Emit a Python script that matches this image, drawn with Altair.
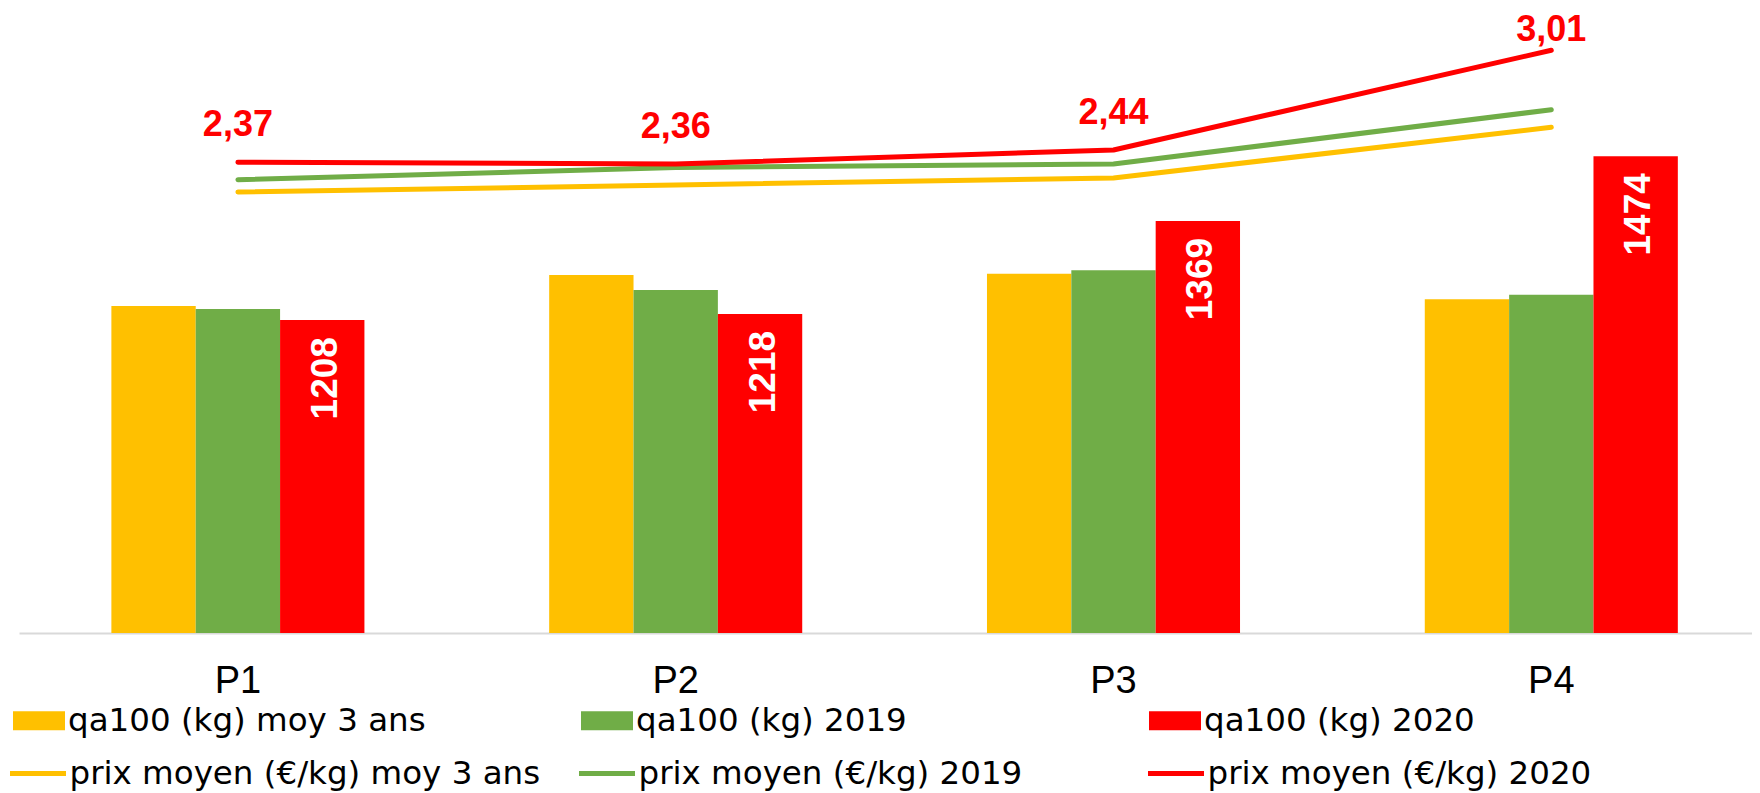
import altair as alt
import pandas as pd

periods = ["P1", "P2", "P3", "P4"]
bar_series = ["qa100 (kg) moy 3 ans", "qa100 (kg) 2019", "qa100 (kg) 2020"]
line_series = ["prix moyen (€/kg) moy 3 ans", "prix moyen (€/kg) 2019", "prix moyen (€/kg) 2020"]
qa_moy3 = [1231, 1281, 1283, 1242]
qa_2019 = [1226, 1257, 1289, 1249]
qa_2020 = [1208, 1218, 1369, 1474]
prix_moy3 = [2.20, 2.24, 2.28, 2.57]
prix_2019 = [2.27, 2.34, 2.36, 2.67]
prix_2020 = [2.37, 2.36, 2.44, 3.01]
colors = ["#FFC000", "#70AD47", "#FF0000"]

bars_df = pd.DataFrame(
    [{"periode": p, "serie": s, "qa": v}
     for s, vals in zip(bar_series, [qa_moy3, qa_2019, qa_2020])
     for p, v in zip(periods, vals)]
)
lines_df = pd.DataFrame(
    [{"periode": p, "serie": s, "prix": v}
     for s, vals in zip(line_series, [prix_moy3, prix_2019, prix_2020])
     for p, v in zip(periods, vals)]
)

FONT = "Liberation Sans"

x_enc = alt.X(
    "periode:N",
    sort=periods,
    scale=alt.Scale(domain=periods, range=[0, 1751.2], paddingInner=0.422, paddingOuter=0.211),
    axis=alt.Axis(
        title=None, labelAngle=0, labelFont=FONT, labelFontSize=38, labelColor="black",
        labelPadding=29, ticks=False, tickSize=0, domainColor="#D9D9D9", domainWidth=2,
        grid=False,
    ),
)
xoff = alt.XOffset("serie:N", sort=bar_series, scale=alt.Scale(domain=bar_series, paddingInner=0, paddingOuter=0))
y_qa = alt.Y("qa:Q", scale=alt.Scale(domain=[700, 1700], zero=False, nice=False), axis=None)
y_prix = alt.Y("prix:Q", scale=alt.Scale(domain=[-0.32, 3.2], zero=False, nice=False), axis=None)

bar_base = alt.Chart(bars_df)
bars = bar_base.mark_bar(clip=True).encode(
    x=x_enc,
    xOffset=xoff,
    y=y_qa,
    fill=alt.Fill(
        "serie:N", sort=bar_series,
        scale=alt.Scale(domain=bar_series, range=colors),
        legend=alt.Legend(
            title=None, orient="none", legendX=-6, legendY=677.5, direction="horizontal",
            columns=3, gridAlign="all", columnPadding=155, padding=0,
            symbolType="M-1,-0.365H1V0.365H-1Z", symbolSize=2704, symbolStrokeWidth=0,
            symbolOpacity=1, labelFont="DejaVu Sans", labelFontSize=32.5, labelColor="black",
            labelLimit=1000, labelOffset=3,
        ),
    ),
)
bar_text = bar_base.transform_filter(alt.datum.serie == bar_series[2]).mark_text(
    angle=270, align="right", baseline="middle", dx=-17, dy=3.5,
    font=FONT, fontWeight="bold", fontSize=37, color="white",
).encode(x=x_enc, xOffset=xoff, y=y_qa, text=alt.Text("qa:Q"))

line_base = alt.Chart(lines_df)
lines = line_base.mark_line(strokeWidth=5, strokeCap="round", strokeJoin="round").encode(
    x=x_enc,
    y=y_prix,
    stroke=alt.Stroke(
        "serie:N", sort=line_series,
        scale=alt.Scale(domain=line_series, range=colors),
        legend=alt.Legend(
            title=None, orient="none", legendX=-11.5, legendY=726, direction="horizontal",
            columns=3, gridAlign="all", columnPadding=28, padding=0,
            symbolType="stroke", symbolSize=3136, symbolStrokeWidth=5,
            symbolOpacity=1, labelFont="DejaVu Sans", labelFontSize=32.5, labelColor="black",
            labelLimit=1000, labelOffset=1,
        ),
    ),
)

price_lbl = line_base.transform_filter(alt.datum.serie == line_series[2]).transform_calculate(
    label="replace(format(datum.prix, '.2f'), '.', ',')"
)
price_text_a = price_lbl.transform_filter(alt.datum.periode != periods[3]).mark_text(
    align="center", baseline="alphabetic", dy=-26,
    font=FONT, fontWeight="bold", fontSize=36, color="#FF0000",
).encode(x=x_enc, y=y_prix, text="label:N")
price_text_b = price_lbl.transform_filter(alt.datum.periode == periods[3]).mark_text(
    align="center", baseline="alphabetic", dy=-9.5,
    font=FONT, fontWeight="bold", fontSize=36, color="#FF0000",
).encode(x=x_enc, y=y_prix, text="label:N")

chart = (
    alt.layer(
        alt.layer(bars, bar_text),
        alt.layer(lines, price_text_a, price_text_b),
    )
    .resolve_scale(y="independent")
    .properties(
        width=1732,
        height=616,
        background="white",
        autosize=alt.AutoSizeParams(type="none"),
        padding={"left": 11, "top": 9, "right": 1, "bottom": 160},
    )
    .configure_view(stroke=None, strokeWidth=0)
)

chart.save("out.html", embed_options={"renderer": "svg", "actions": False})
